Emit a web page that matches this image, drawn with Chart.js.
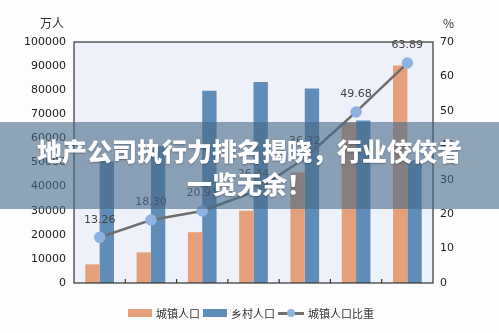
<!DOCTYPE html>
<html>
<head>
<meta charset="utf-8">
<script src="https://cdn.jsdelivr.net/npm/chart.js@4/dist/chart.umd.min.js"></script>
<style>
    body { margin: 0; background: #fdfdfe; font-family: "DejaVu Sans", sans-serif; }
    #wrap { position: relative; width: 499px; height: 333px; overflow: hidden; }
    .unit { position: absolute; top: 14px; font: 12px "Noto Sans CJK SC", sans-serif; color: #333; }
    #legend { position: absolute; top: 305px; left: 128px; display: flex; align-items: center;
              font: 11px "Noto Sans CJK SC", sans-serif; color: #333; white-space: nowrap; }
    #legend .box { display: inline-block; width: 24px; height: 8px; margin-right: 4px; }
    #legend .txt { margin-right: 3px; }
    #legend .ln { position: relative; display: inline-block; width: 26px; height: 10px; margin-right: 4px; }
    #legend .ln::before { content: ""; position: absolute; left: 0; right: 0; top: 4px; height: 2.5px; background: #6e6e6e; }
    #legend .ln::after { content: ""; position: absolute; left: 9px; top: 1px; width: 8px; height: 8px; border-radius: 50%; background: #8db3e2; }
    #banner { position: absolute; left: 0; top: 122px; width: 499px; height: 87px;
              background: rgba(70, 105, 135, 0.6); color: #fff; text-align: center;
              font: 900 25px "Noto Sans CJK SC", sans-serif; line-height: 33px; padding-top: 12px; box-sizing: border-box;
              text-shadow: 0 1px 2px rgba(0,0,0,0.3); white-space: nowrap; }
</style>
</head>
<body>
<div id="wrap">
    <canvas id="chart" width="499" height="333"></canvas>
    <div class="unit" style="left:40px">万人</div>
    <div class="unit" style="left:443px">%</div>
    <div id="legend">
        <span class="box" style="background:#e4a07a"></span><span class="txt">城镇人口</span>
        <span class="box" style="background:#5f8db7"></span><span class="txt">乡村人口</span>
        <span class="ln"></span><span class="txt">城镇人口比重</span>
    </div>
    <div id="banner">地产公司执行力排名揭晓，行业佼佼者<br>一览无余！</div>
</div>
<script>
// census years (not shown on the axis in the picture)
const years = ["1953", "1964", "1982", "1990", "2000", "2010", "2020"];
const urban = [7726, 12710, 21082, 29971, 45844, 66557, 90199];     // 万人
const rural = [50534, 56748, 79736, 83397, 80739, 67415, 50979];    // 万人
const urbanShare = [13.26, 18.30, 20.91, 26.44, 36.22, 49.68, 63.89]; // %

// plot background, frame, inward category ticks and point labels
const decor = {
    id: "decor",
    beforeDraw(chart) {
        const { ctx, chartArea: a } = chart;
        ctx.save();
        ctx.fillStyle = "#eef1f9";
        ctx.fillRect(a.left, a.top, a.right - a.left, a.bottom - a.top);
        ctx.restore();
    },
    afterDatasetsDraw(chart) {
        const { ctx, chartArea: a } = chart;
        const x = chart.scales.x;
        ctx.save();
        ctx.strokeStyle = "#333";
        ctx.lineWidth = 1.2;
        ctx.strokeRect(a.left, a.top, a.right - a.left, a.bottom - a.top);
        ctx.beginPath();
        for (let i = 1; i < years.length; i++) {
            const px = (x.getPixelForValue(i - 1) + x.getPixelForValue(i)) / 2;
            ctx.moveTo(px, a.bottom);
            ctx.lineTo(px, a.bottom - 4);
        }
        ctx.stroke();

        const meta = chart.getDatasetMeta(2);
        ctx.fillStyle = "#444";
        ctx.font = "11px 'DejaVu Sans'";
        ctx.textAlign = "center";
        ctx.textBaseline = "bottom";
        meta.data.forEach((pt, i) => {
            ctx.fillText(urbanShare[i].toFixed(2), pt.x, pt.y - 12);
        });
        ctx.restore();
    }
};

new Chart(document.getElementById("chart"), {
    data: {
        labels: years,
        datasets: [
            {
                type: "bar", label: "城镇人口", data: urban, yAxisID: "y",
                backgroundColor: "#e4a07a", barPercentage: 1, categoryPercentage: 0.56, order: 1
            },
            {
                type: "bar", label: "乡村人口", data: rural, yAxisID: "y",
                backgroundColor: "#5f8db7", barPercentage: 1, categoryPercentage: 0.56, order: 1
            },
            {
                type: "line", label: "城镇人口比重", data: urbanShare, yAxisID: "y1",
                borderColor: "#6e6e6e", borderWidth: 2.5, pointRadius: 4.5,
                pointBackgroundColor: "#8db3e2", pointBorderColor: "#8db3e2", order: 0
            }
        ]
    },
    options: {
        responsive: false,
        animation: false,
        layout: { padding: { top: 42, left: 0, right: 0, bottom: 0 } },
        plugins: { legend: { display: false }, tooltip: { enabled: false } },
        scales: {
            x: {
                grid: { display: false, drawTicks: false },
                border: { display: false },
                ticks: { display: false },
                afterFit: s => { s.height = 50; }
            },
            y: {
                position: "left", min: 0, max: 100000,
                grid: { display: false, drawTicks: false },
                border: { display: false },
                ticks: { stepSize: 10000, padding: 8, color: "#222", font: { family: "DejaVu Sans", size: 11 },
                         callback: v => String(v) },
                afterFit: s => { s.width = 74; }
            },
            y1: {
                position: "right", min: 0, max: 70,
                grid: { display: false, drawTicks: false },
                border: { display: false },
                ticks: { stepSize: 10, padding: 7, color: "#222", font: { family: "DejaVu Sans", size: 11 },
                         callback: v => String(v) },
                afterFit: s => { s.width = 66; }
            }
        }
    },
    plugins: [decor]
});
</script>
</body>
</html>
